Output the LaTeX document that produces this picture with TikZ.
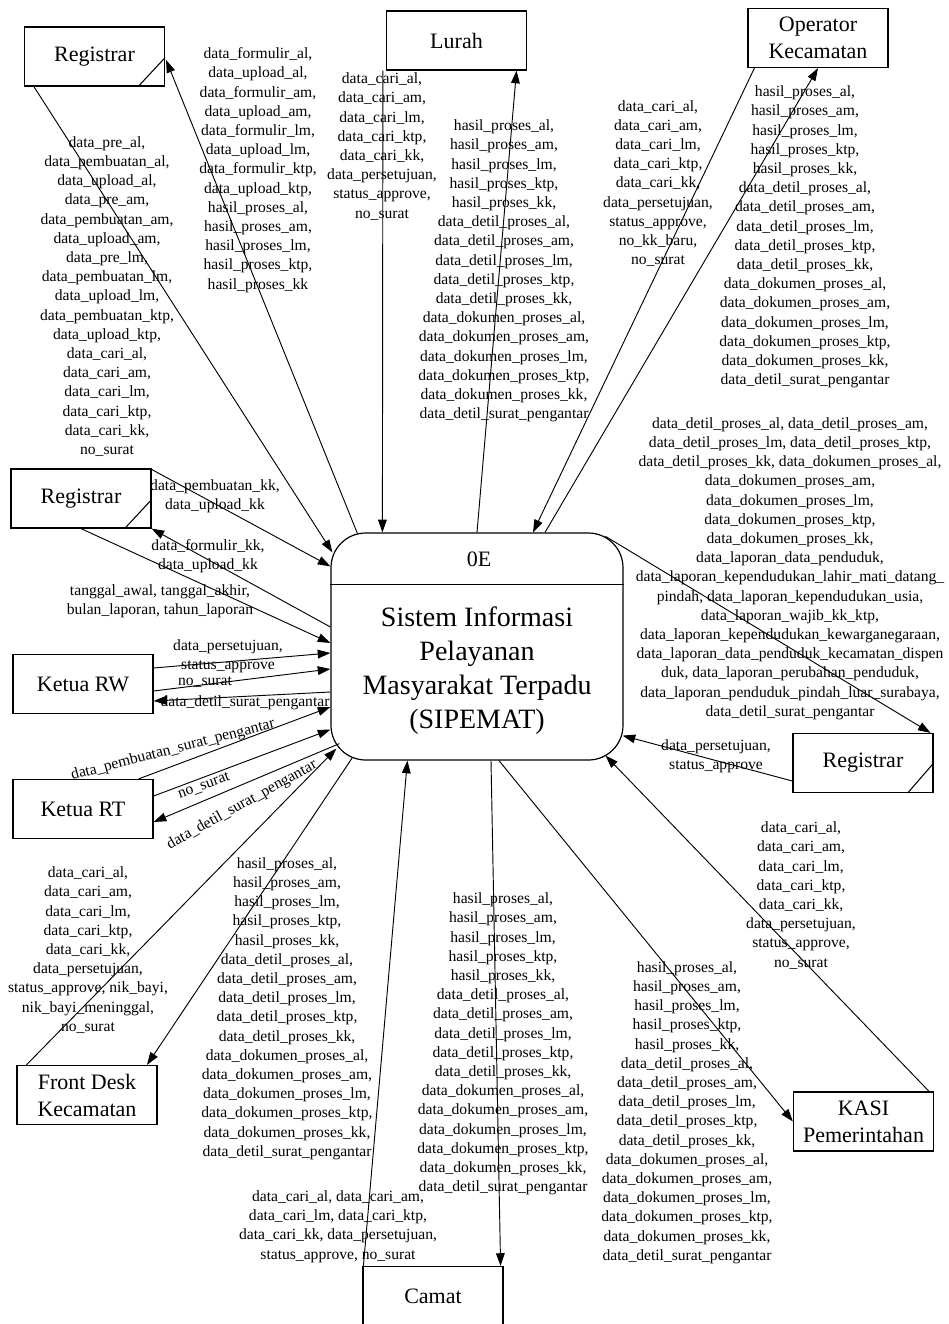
\documentclass[tikz,border=0pt]{standalone}
\usepackage{fontspec}
\setmainfont{Liberation Serif}
\usetikzlibrary{arrows.meta,calc}
\newcommand{\blkCari}{data\_cari\_al,\\data\_cari\_am,\\data\_cari\_lm,\\data\_cari\_ktp,\\data\_cari\_kk,}
\newcommand{\blkHDD}{hasil\_proses\_al,\\hasil\_proses\_am,\\hasil\_proses\_lm,\\hasil\_proses\_ktp,\\hasil\_proses\_kk,\\data\_detil\_proses\_al,\\data\_detil\_proses\_am,\\data\_detil\_proses\_lm,\\data\_detil\_proses\_ktp,\\data\_detil\_proses\_kk,\\data\_dokumen\_proses\_al,\\data\_dokumen\_proses\_am,\\data\_dokumen\_proses\_lm,\\data\_dokumen\_proses\_ktp,\\data\_dokumen\_proses\_kk,\\data\_detil\_surat\_pengantar}
\begin{document}
\begin{tikzpicture}[x=0.75pt,y=-0.75pt,
  ent/.style={draw,line width=0.9pt,minimum width=105pt,minimum height=44.25pt,inner sep=0pt,align=center,font=\fontsize{16.5}{20.25}\selectfont},
  lbl/.style={align=center,inner sep=0pt,font=\fontsize{11.7}{14.4}\selectfont},
  flow/.style={line width=0.7pt,-{Triangle[length=9.5pt,width=6.5pt]}},
  dup/.style={line width=0.8pt}]
\useasboundingbox (0,0) rectangle (949,1324);
% external entities
\node[ent] (R1) at (94.5,56.5) {Registrar};
\node[ent] (LU) at (456.5,40.5) {Lurah};
\node[ent] (OK) at (818,38) {Operator\\Kecamatan};
\node[ent] (R2) at (81,498.5) {Registrar};
\node[ent] (RW) at (83,684) {Ketua RW};
\node[ent] (RT) at (83,809) {Ketua RT};
\node[ent] (FD) at (87,1095) {Front Desk\\Kecamatan};
\node[ent] (CA) at (433,1296) {Camat};
\node[ent] (KA) at (863.5,1121.5) {KASI\\Pemerintahan};
\node[ent] (R3) at (863,763) {Registrar};
% duplicate markers
\draw[dup] ($(R1.south east)+(-27,0)$) -- ($(R1.south east)+(0,-29)$);
\draw[dup] ($(R2.south east)+(-27,0)$) -- ($(R2.south east)+(0,-29)$);
\draw[dup] ($(R3.south east)+(-26,0)$) -- ($(R3.south east)+(0,-30)$);
% process
\node[draw,line width=0.9pt,rounded corners=26pt,minimum width=219pt,minimum height=170.25pt] (P) at (477,646.5) {};
\draw[line width=0.9pt] ($(P.north west)+(0,52)$) -- ($(P.north east)+(0,52)$);
\node[font=\fontsize{16.5}{20}\selectfont] (PID) at ($(P.north)+(2,27)$) {0E};
\node[font=\fontsize{21}{25.5}\selectfont,align=center] (PT) at (477,671) {Sistem Informasi\\Pelayanan\\Masyarakat Terpadu\\(SIPEMAT)};
% flows
\draw[flow] ($(R1.south west)+(10,0)$) -- ($(P.north west)+(2,20)$);
\draw[flow] ($(P.north west)+(27,1)$) -- ($(R1.east)+(1,3.5)$);
\draw[flow] ($(LU.south west)+(-3,0)$) -- ($(P.north west)+(52,0)$);
\draw[flow] (P.north) -- ($(LU.south)+(60,0)$);
\draw[flow] ($(OK.south west)+(7,0)$) -- ($(P.north)+(56,0)$);
\draw[flow] ($(P.north)+(68,0)$) -- (OK.south);
\draw[flow] ($(R2.north east)+(0,1)$) -- ($(P.north west)+(0,34)$);
\draw[flow] ($(P.west)+(0,-19.5)$) -- (R2.south east);
\draw[flow] (R2.south) -- ($(P.west)+(0,-3.5)$);
\draw[flow] ($(RW.east)+(0,-16)$) -- ($(P.west)+(0,6.5)$);
\draw[flow] ($(RW.east)+(0,7)$) -- ($(P.west)+(0,22.5)$);
\draw[flow] ($(P.west)+(0,45.5)$) -- ($(RW.east)+(0,17)$);
\draw[flow] ($(RT.north east)+(-15,0)$) -- ($(P.west)+(0,60.5)$);
\draw[flow] ($(RT.east)+(0,-13)$) -- ($(P.south west)+(0,-31)$);
\draw[flow] ($(P.south west)+(9,-17)$) -- ($(RT.east)+(0,13)$);
\draw[flow] ($(FD.north west)+(10,0)$) -- ($(P.south west)+(6,-12)$);
\draw[flow] ($(P.south west)+(22,-3)$) -- ($(FD.north)+(60,0)$);
\draw[flow] ($(CA.north west)+(1,0)$) -- ($(P.south west)+(77,0)$);
\draw[flow] ($(P.south)+(14,0)$) -- ($(CA.north east)+(-3,0)$);
\draw[flow] ($(P.south)+(22,0)$) -- (KA.west);
\draw[flow] ($(KA.north east)+(-5,0)$) -- ($(P.south east)+(-18,-5)$);
\draw[flow] ($(P.north east)+(-18,4)$) -- ($(R3.north east)+(-3,0)$);
\draw[flow] ($(R3.west)+(0,18)$) -- ($(P.south east)+(-1,-25)$);
% labels
\node[lbl] (L1) at (107,296.5) {data\_pre\_al,\\data\_pembuatan\_al,\\data\_upload\_al,\\data\_pre\_am,\\data\_pembuatan\_am,\\data\_upload\_am,\\data\_pre\_lm,\\data\_pembuatan\_lm,\\data\_upload\_lm,\\data\_pembuatan\_ktp,\\data\_upload\_ktp,\\\blkCari\\no\_surat};
\node[lbl] (L2) at (258,170) {data\_formulir\_al,\\data\_upload\_al,\\data\_formulir\_am,\\data\_upload\_am,\\data\_formulir\_lm,\\data\_upload\_lm,\\data\_formulir\_ktp,\\data\_upload\_ktp,\\hasil\_proses\_al,\\hasil\_proses\_am,\\hasil\_proses\_lm,\\hasil\_proses\_ktp,\\hasil\_proses\_kk};
\node[lbl] (L3) at (382,146.5) {\blkCari\\data\_persetujuan,\\status\_approve,\\no\_surat};
\node[lbl] (L4) at (504,271) {\blkHDD};
\node[lbl] (L5) at (658,183.5) {\blkCari\\data\_persetujuan,\\status\_approve,\\no\_kk\_baru,\\no\_surat};
\node[lbl] (L6) at (805,237) {\blkHDD};
\node[lbl] (L7) at (790,568.5) {data\_detil\_proses\_al, data\_detil\_proses\_am,\\data\_detil\_proses\_lm, data\_detil\_proses\_ktp,\\data\_detil\_proses\_kk, data\_dokumen\_proses\_al,\\data\_dokumen\_proses\_am,\\data\_dokumen\_proses\_lm,\\data\_dokumen\_proses\_ktp,\\data\_dokumen\_proses\_kk,\\data\_laporan\_data\_penduduk,\\data\_laporan\_kependudukan\_lahir\_mati\_datang\_\\pindah, data\_laporan\_kependudukan\_usia,\\data\_laporan\_wajib\_kk\_ktp,\\data\_laporan\_kependudukan\_kewarganegaraan,\\data\_laporan\_data\_penduduk\_kecamatan\_dispen\\duk, data\_laporan\_perubahan\_penduduk,\\data\_laporan\_penduduk\_pindah\_luar\_surabaya,\\data\_detil\_surat\_pengantar};
\node[lbl] (L8) at (716,756.5) {data\_persetujuan,\\status\_approve};
\node[lbl] (L9) at (801,895.5) {\blkCari\\data\_persetujuan,\\status\_approve,\\no\_surat};
\node[lbl] (L10) at (687,1112.5) {\blkHDD};
\node[lbl] (L11) at (503,1044) {\blkHDD};
\node[lbl] (L12) at (338,1226.5) {data\_cari\_al, data\_cari\_am,\\data\_cari\_lm, data\_cari\_ktp,\\data\_cari\_kk, data\_persetujuan,\\status\_approve, no\_surat};
\node[lbl] (L13) at (287,1008.5) {\blkHDD};
\node[lbl] (L14) at (88,950) {\blkCari\\data\_persetujuan,\\status\_approve, nik\_bayi,\\nik\_bayi\_meninggal,\\no\_surat};
\node[lbl] (L15) at (215,496.5) {data\_pembuatan\_kk,\\data\_upload\_kk};
\node[lbl] (L16) at (208,556) {data\_formulir\_kk,\\data\_upload\_kk};
\node[lbl] (L17) at (160,601) {tanggal\_awal, tanggal\_akhir,\\bulan\_laporan, tahun\_laporan};
\node[lbl] (L18) at (228,656) {data\_persetujuan,\\status\_approve};
\node[lbl] (L19) at (205,682) {no\_surat};
\node[lbl] (L20) at (245,703) {data\_detil\_surat\_pengantar};
\node[lbl,rotate=14.5] (L21) at (173,750) {data\_pembuatan\_surat\_pengantar};
\node[lbl,rotate=20] (L22) at (204,786) {no\_surat};
\node[lbl,rotate=29] (L23) at (242,805) {data\_detil\_surat\_pengantar};
\end{tikzpicture}
\end{document}
